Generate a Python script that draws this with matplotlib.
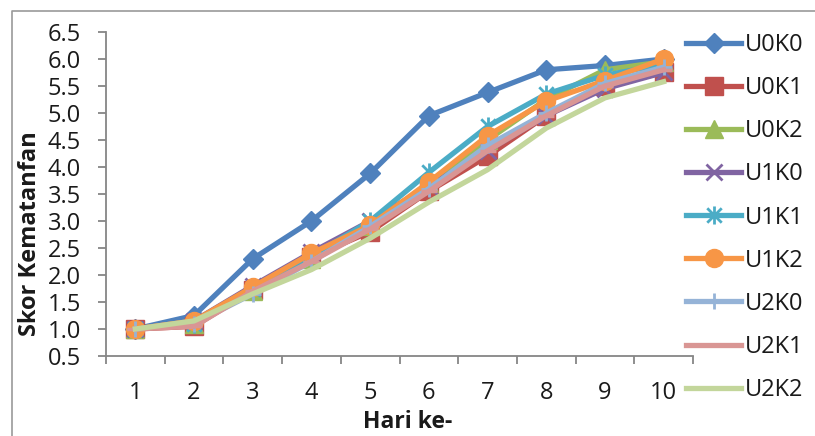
import matplotlib
matplotlib.use("Agg")
import matplotlib.pyplot as plt
from matplotlib.path import Path
from matplotlib.lines import Line2D
from matplotlib.ticker import FixedLocator, FormatStrFormatter

plt.rcParams['font.family'] = ['Open Sans', 'DejaVu Sans']

days = [1, 2, 3, 4, 5, 6, 7, 8, 9, 10]
series_names = ["U0K0", "U0K1", "U0K2", "U1K0", "U1K1", "U1K2", "U2K0", "U2K1", "U2K2"]
U0K0 = [1.0, 1.25, 2.3, 3.0, 3.88, 4.95, 5.38, 5.8, 5.88, 6.0]
U0K1 = [1.0, 1.05, 1.72, 2.33, 2.8, 3.55, 4.2, 4.95, 5.5, 5.75]
U0K2 = [1.0, 1.1, 1.7, 2.3, 2.9, 3.7, 4.5, 5.25, 5.8, 5.95]
U1K0 = [1.0, 1.15, 1.8, 2.42, 3.0, 3.65, 4.3, 4.95, 5.45, 5.75]
U1K1 = [1.0, 1.1, 1.75, 2.35, 3.0, 3.9, 4.75, 5.35, 5.7, 5.9]
U1K2 = [1.0, 1.15, 1.78, 2.4, 2.92, 3.72, 4.58, 5.22, 5.6, 6.0]
U2K0 = [1.0, 1.1, 1.65, 2.25, 2.9, 3.6, 4.4, 5.0, 5.55, 5.85]
U2K1 = [1.0, 1.05, 1.7, 2.25, 2.85, 3.55, 4.3, 4.95, 5.5, 5.8]
U2K2 = [1.0, 1.15, 1.65, 2.1, 2.68, 3.35, 3.95, 4.72, 5.28, 5.58]
values = [U0K0, U0K1, U0K2, U1K0, U1K1, U1K2, U2K0, U2K1, U2K2]
y_ticks = [0.5, 1.0, 1.5, 2.0, 2.5, 3.0, 3.5, 4.0, 4.5, 5.0, 5.5, 6.0, 6.5]

colors = ["#4F81BD", "#C0504D", "#9BBB59", "#8064A2", "#4BACC6",
          "#F79646", "#95B3D7", "#D99694", "#C3D69B"]

asterisk = Path([(0, -1), (0, 1), (-0.8, -0.8), (0.8, 0.8), (-0.8, 0.8), (0.8, -0.8)],
                [Path.MOVETO, Path.LINETO, Path.MOVETO, Path.LINETO, Path.MOVETO, Path.LINETO])
styles = [
    dict(marker='D', ms=10, mew=1),
    dict(marker='s', ms=13, mew=1),
    dict(marker='^', ms=13, mew=1),
    dict(marker='x', ms=12, mew=2),
    dict(marker=asterisk, ms=13, mew=2),
    dict(marker='o', ms=13, mew=1),
    dict(marker='+', ms=12, mew=2),
    dict(marker='_', ms=12, mew=2.5),
    dict(marker='None', ms=0, mew=0),
]

fig = plt.figure(figsize=(8.15, 4.36), dpi=100)
ax = fig.add_axes([106/815, 1-356/436, (693-106)/815, (356-32)/436])

handles = []
for name, vals, c, st in zip(series_names, values, colors, styles):
    h, = ax.plot(days, vals, color=c, lw=3.8, marker=st['marker'], ms=st['ms'],
                 mew=st['mew'], mec=c, mfc=c, label=name, solid_joinstyle='round')
    handles.append(h)

ax.set_xlim(0.5, 10.5)
ax.set_ylim(0.5, 6.5)
ax.yaxis.set_major_locator(FixedLocator(y_ticks))
ax.yaxis.set_major_formatter(FormatStrFormatter('%.1f'))
ax.xaxis.set_major_locator(FixedLocator([d - 0.5 for d in days] + [10.5]))
ax.xaxis.set_major_formatter(plt.NullFormatter())
ax.xaxis.set_minor_locator(FixedLocator(days))
ax.xaxis.set_minor_formatter(FormatStrFormatter('%d'))

grey = "#868686"
txt = "#1a1a1a"
for s in ['top', 'right']:
    ax.spines[s].set_visible(False)
for s in ['left', 'bottom']:
    ax.spines[s].set_color(grey)
    ax.spines[s].set_linewidth(1.3)
ax.tick_params(axis='y', which='major', direction='out', length=6, width=1.3,
               color=grey, labelsize=17, pad=12, labelcolor=txt)
ax.tick_params(axis='x', which='major', direction='out', length=6, width=1.3, color=grey)
ax.tick_params(axis='x', which='minor', length=0, labelsize=17, pad=18, labelcolor=txt)

ax.set_xlabel("Hari ke-", fontsize=16.5, fontweight='bold', color=txt)
ax.xaxis.set_label_coords(0.514, -0.204)
ax.xaxis.label.set_va('center')
ax.set_ylabel("Skor Kematanfan", fontsize=17, fontweight='bold', color=txt)
ax.yaxis.set_label_coords(-0.129, 0.377)
ax.yaxis.label.set_va('center')

leg = fig.legend(handles=handles, loc='upper left', bbox_to_anchor=(686/815, 1-33/436),
                 frameon=False, fontsize=17, handlelength=2.35, handletextpad=0.15,
                 labelspacing=0.81, borderpad=0, borderaxespad=0)
for t in leg.get_texts():
    t.set_color(txt)

fig.add_artist(Line2D([12/815, 12/815, 1.0], [0.0, 1-11/436, 1-11/436],
                      transform=fig.transFigure, color='#9a9a9a', lw=1.2))

fig.savefig("out.png", dpi=100)
